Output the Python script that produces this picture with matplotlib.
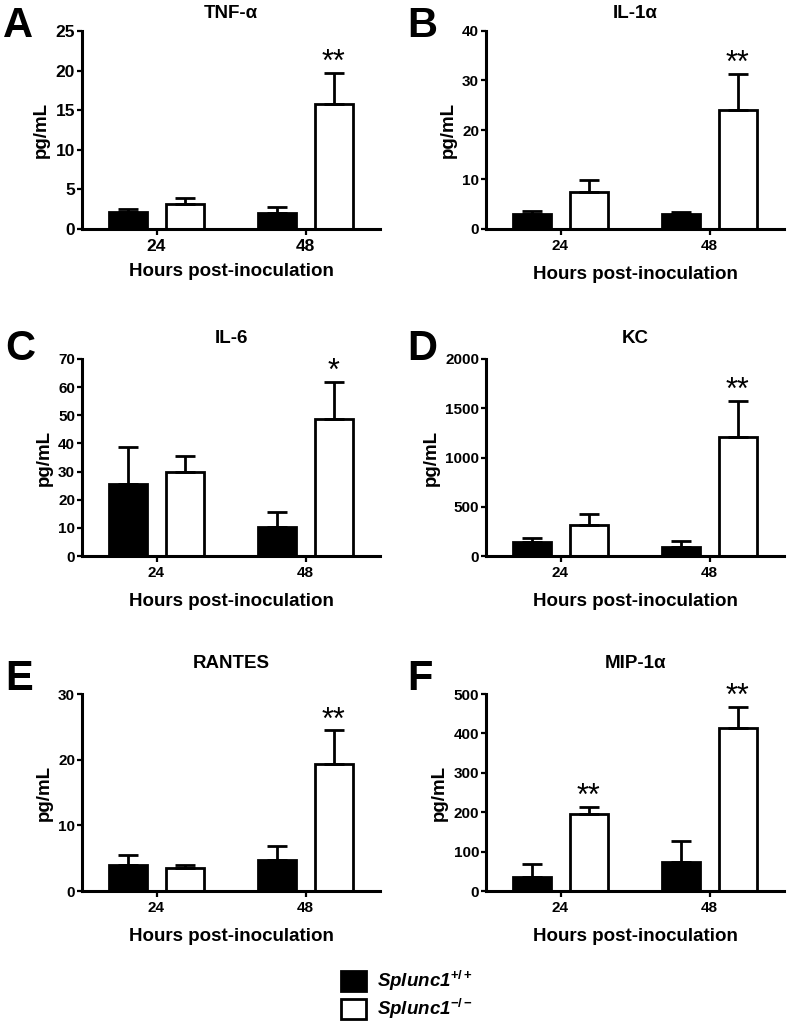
import numpy as np
import matplotlib
matplotlib.use("Agg")
import matplotlib.pyplot as plt
from matplotlib.patches import Patch

plt.rcParams['font.family'] = ['Liberation Sans', 'DejaVu Sans']
plt.rcParams['font.weight'] = 'bold'
plt.rcParams['mathtext.fontset'] = 'custom'
plt.rcParams['mathtext.rm'] = 'Liberation Sans:bold'
plt.rcParams['mathtext.it'] = 'Liberation Sans:italic:bold'
plt.rcParams['mathtext.default'] = 'it'

# date (media si eroarea, doar in sus)
hours = ['24', '48']
groups = ['Splunc1$^{+/+}$', 'Splunc1$^{-/-}$']

titles = ['TNF-α', 'IL-1α', 'IL-6', 'KC', 'RANTES', 'MIP-1α']
letters = ['A', 'B', 'C', 'D', 'E', 'F']
ymax = [25, 40, 70, 2000, 30, 500]
ystep = [5, 10, 10, 500, 10, 100]

tnf_wt, tnf_wt_err = [2.2, 2.0], [0.3, 0.8]
tnf_ko, tnf_ko_err = [3.1, 15.8], [0.85, 3.95]
il1_wt, il1_wt_err = [3.1, 3.0], [0.5, 0.4]
il1_ko, il1_ko_err = [7.5, 24.0], [2.4, 7.4]
il6_wt, il6_wt_err = [25.6, 10.2], [13.1, 5.6]
il6_ko, il6_ko_err = [29.9, 48.7], [5.6, 13.3]
kc_wt, kc_wt_err = [142, 95], [41, 57]
kc_ko, kc_ko_err = [315, 1211], [115, 366]
rantes_wt, rantes_wt_err = [3.9, 4.7], [1.6, 2.1]
rantes_ko, rantes_ko_err = [3.45, 19.4], [0.45, 5.1]
mip_wt, mip_wt_err = [34.7, 74.5], [33, 53]
mip_ko, mip_ko_err = [194.6, 414.5], [19.5, 53.5]

stars = [['', '**'], ['', '**'], ['', '*'], ['', '**'], ['', '**'], ['**', '**']]

wt = [tnf_wt, il1_wt, il6_wt, kc_wt, rantes_wt, mip_wt]
wt_err = [tnf_wt_err, il1_wt_err, il6_wt_err, kc_wt_err, rantes_wt_err, mip_wt_err]
ko = [tnf_ko, il1_ko, il6_ko, kc_ko, rantes_ko, mip_ko]
ko_err = [tnf_ko_err, il1_ko_err, il6_ko_err, kc_ko_err, rantes_ko_err, mip_ko_err]

W, H = 788, 1022
# pozitiile axelor in pixeli: (stanga, sus, dreapta, jos)
boxes = [(82, 31, 380, 229), (486, 31, 784, 229),
         (82, 359, 380, 556), (486, 359, 784, 556),
         (82, 694, 380, 891), (486, 694, 784, 891)]
title_pad = [9, 9, 11.5, 11.5, 19, 19]
tick_fs = [12.5, 11, 11, 11, 11, 11]
xlabel_pad = [6, 9, 9, 9, 9, 9]
letter_pos = [(3, 37), (407, 37), (5, 360), (407, 360), (5, 690), (407, 690)]

fig = plt.figure(figsize=(W / 100, H / 100), dpi=100)

x = np.arange(len(hours))
bw = 0.255
off = 0.188

for i in range(6):
    l, t, r, b = boxes[i]
    ax = fig.add_axes([l / W, 1 - b / H, (r - l) / W, (b - t) / H])
    ekw = dict(ecolor='black', elinewidth=2, capsize=7, capthick=2)
    ax.bar(x - off, wt[i], bw, color='black', edgecolor='black', linewidth=2,
           yerr=[np.zeros(2), wt_err[i]], error_kw=ekw, zorder=2)
    ax.bar(x + off, ko[i], bw, color='white', edgecolor='black', linewidth=2,
           yerr=[np.zeros(2), ko_err[i]], error_kw=ekw, zorder=2)
    for j in range(2):
        if stars[i][j]:
            ax.annotate(' '.join(stars[i][j]) if False else stars[i][j],
                        xy=(x[j] + off, ko[i][j] + ko_err[i][j]),
                        xytext=(0, 1), textcoords='offset points',
                        ha='center', va='baseline', fontsize=22,
                        fontweight='normal', annotation_clip=False)
    ax.set_xlim(-0.5, 1.5)
    ax.set_ylim(0, ymax[i])
    ax.set_yticks(np.arange(0, ymax[i] + 1, ystep[i]))
    ax.set_xticks(x)
    ax.set_xticklabels(hours)
    for s in ['top', 'right']:
        ax.spines[s].set_visible(False)
    for s in ['left', 'bottom']:
        ax.spines[s].set_linewidth(2.2)
    ax.tick_params(axis='y', length=3.5, width=1.6, pad=1.5, labelsize=tick_fs[i])
    ax.tick_params(axis='x', length=4.5, width=1.6, pad=3, labelsize=tick_fs[i])
    ax.set_title(titles[i], fontsize=13.5, fontweight='bold', pad=title_pad[i])
    ax.set_ylabel('pg/mL', fontsize=13.5, fontweight='bold', labelpad=4)
    ax.set_xlabel('Hours post-inoculation', fontsize=13.5, fontweight='bold',
                  labelpad=xlabel_pad[i])
    lx, ly = letter_pos[i]
    fig.text(lx / W, 1 - ly / H, letters[i], fontsize=30, fontweight='bold',
             ha='left', va='baseline')

handles = [Patch(facecolor='black', edgecolor='black', linewidth=2),
           Patch(facecolor='white', edgecolor='black', linewidth=2)]
fig.legend(handles, groups, loc='center', bbox_to_anchor=(407 / W, 1 - 995 / H),
           frameon=False, handlelength=1.35, handleheight=1.25, labelspacing=0.2,
           handletextpad=0.6, prop=dict(size=13.5, weight='bold', style='italic'))

fig.savefig('out.png', dpi=100)
